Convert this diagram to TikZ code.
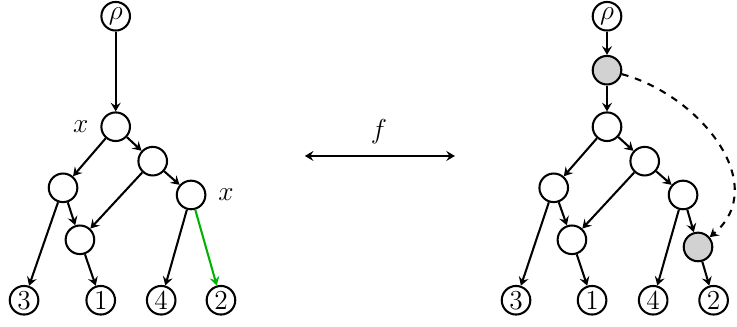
\documentclass[tikz,border=0pt]{standalone}
\usetikzlibrary{arrows.meta}
\begin{document}
\begin{tikzpicture}[>={Stealth[length=3.8pt,width=4.4pt,inset=1.4pt]},line width=0.9pt,font=\large,vtx/.style={draw,circle,minimum size=0.44cm,inner sep=0pt},grayvtx/.style={vtx,fill=gray!35},xlab/.style={label distance=0.05cm}]
\useasboundingbox (0,0) rectangle (11.34,5.03);
% left tree
\node[vtx] (lrho) at (1.78,4.78){$\rho$};
\node[vtx,label={[xlab]left:$x$}] (la) at (1.78,3.08){}; \node[vtx] (lb) at (2.35,2.55){}; \node[vtx] (lc) at (0.97,2.14){};
\node[vtx,label={[xlab]right:$x$}] (ld) at (2.94,2.03){}; \node[vtx] (le) at (1.23,1.34){};
\node[vtx] (l3) at (0.37,0.41){3}; \node[vtx] (l1) at (1.55,0.41){1}; \node[vtx] (l4) at (2.48,0.41){4}; \node[vtx] (l2) at (3.40,0.41){2};
\draw[->] (lrho)--(la); \draw[->] (la)--(lc); \draw[->] (la)--(lb); \draw[->] (lb)--(le); \draw[->] (lb)--(ld);
\draw[->] (lc)--(l3); \draw[->] (lc)--(le); \draw[->] (le)--(l1); \draw[->] (ld)--(l4); \draw[->,green!70!black] (ld)--(l2);
% the map
\coordinate (fl) at (4.69,2.63); \coordinate (fr) at (7.00,2.63);
\draw[<->] (fl)--(fr); \node (f) at (5.83,3.0){$f$};
% right tree
\node[vtx] (rrho) at (9.34,4.78){$\rho$}; \node[grayvtx] (rg) at (9.34,3.95){};
\node[vtx] (ra) at (9.34,3.08){}; \node[vtx] (rb) at (9.92,2.55){}; \node[vtx] (rc) at (8.52,2.14){};
\node[vtx] (rd) at (10.51,2.03){}; \node[vtx] (re) at (8.80,1.34){}; \node[grayvtx] (rh) at (10.74,1.23){};
\node[vtx] (r3) at (7.94,0.41){3}; \node[vtx] (r1) at (9.11,0.41){1}; \node[vtx] (r4) at (10.05,0.41){4}; \node[vtx] (r2) at (10.98,0.41){2};
\draw[->] (rrho)--(rg); \draw[->] (rg)--(ra); \draw[->] (ra)--(rc); \draw[->] (ra)--(rb); \draw[->] (rb)--(re); \draw[->] (rb)--(rd);
\draw[->] (rc)--(r3); \draw[->] (rc)--(re); \draw[->] (re)--(r1); \draw[->] (rd)--(r4); \draw[->] (rd)--(rh); \draw[->] (rh)--(r2);
\draw[->,dashed] (rg) to[out=-15,in=40,looseness=1.12] (rh);
\end{tikzpicture}
\end{document}
